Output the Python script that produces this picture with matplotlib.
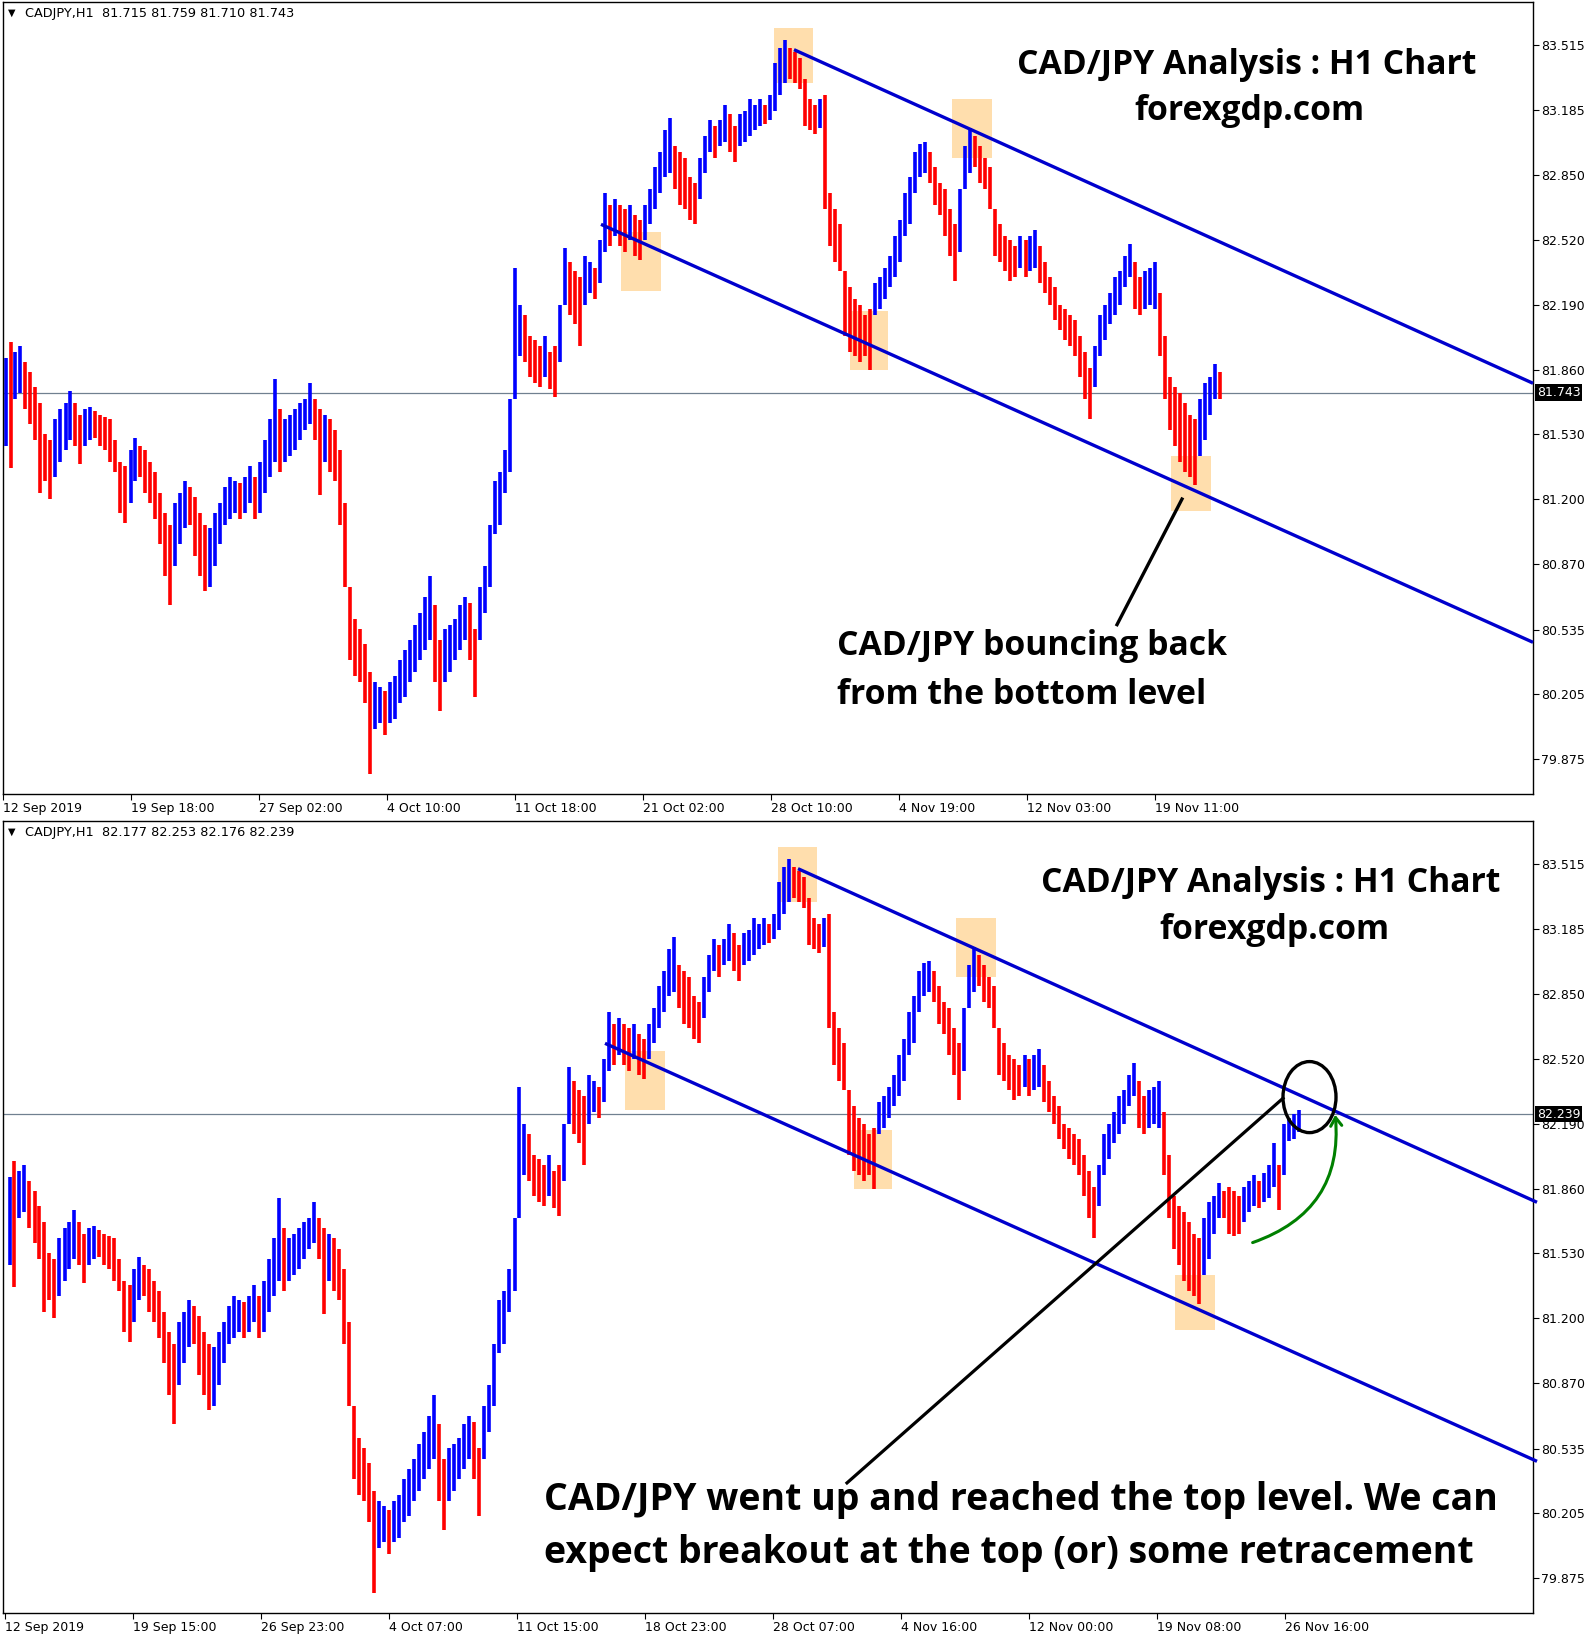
import numpy as np
import matplotlib.pyplot as plt
import matplotlib.transforms as mtransforms
from matplotlib.patches import Rectangle, Ellipse, FancyArrowPatch

# CADJPY H1, one record per 5 hourly bars (high / low)
bar_high = [
    81.92, 82.00, 81.95, 81.98, 81.90, 81.85, 81.77, 81.69, 81.53, 81.50,
    81.61, 81.66, 81.69, 81.75, 81.69, 81.63, 81.66, 81.67, 81.65, 81.63,
    81.62, 81.61, 81.50, 81.39, 81.37, 81.45, 81.51, 81.47, 81.45, 81.39,
    81.34, 81.23, 81.13, 81.07, 81.18, 81.23, 81.29, 81.26, 81.21, 81.13,
    81.07, 81.05, 81.13, 81.18, 81.26, 81.31, 81.29, 81.28, 81.31, 81.37,
    81.31, 81.39, 81.50, 81.61, 81.81, 81.66, 81.61, 81.63, 81.66, 81.69,
    81.71, 81.79, 81.71, 81.66, 81.63, 81.61, 81.55, 81.45, 81.18, 80.75,
    80.59, 80.54, 80.46, 80.32, 80.27, 80.24, 80.22, 80.27, 80.30, 80.38,
    80.43, 80.48, 80.56, 80.62, 80.70, 80.81, 80.66, 80.48, 80.54, 80.56,
    80.59, 80.66, 80.70, 80.67, 80.54, 80.75, 80.86, 81.07, 81.29, 81.34,
    81.45, 81.71, 82.38, 82.19, 82.14, 82.03, 82.01, 81.98, 82.03, 81.95,
    81.98, 82.19, 82.48, 82.41, 82.36, 82.33, 82.44, 82.41, 82.38, 82.52,
    82.76, 82.70, 82.73, 82.70, 82.68, 82.70, 82.65, 82.62, 82.70, 82.78,
    82.89, 82.97, 83.08, 83.14, 83.00, 82.97, 82.94, 82.84, 82.81, 82.94,
    83.05, 83.13, 83.10, 83.13, 83.21, 83.16, 83.10, 83.16, 83.18, 83.24,
    83.21, 83.24, 83.21, 83.26, 83.42, 83.50, 83.54, 83.50, 83.48, 83.45,
    83.34, 83.24, 83.21, 83.24, 83.26, 82.76, 82.68, 82.60, 82.36, 82.28,
    82.22, 82.19, 82.14, 82.17, 82.30, 82.33, 82.38, 82.44, 82.54, 82.62,
    82.76, 82.84, 82.97, 83.01, 83.02, 82.97, 82.89, 82.81, 82.78, 82.68,
    82.60, 82.78, 83.00, 83.09, 83.05, 83.00, 82.94, 82.89, 82.68, 82.60,
    82.54, 82.52, 82.49, 82.54, 82.52, 82.54, 82.57, 82.49, 82.41, 82.33,
    82.28, 82.19, 82.17, 82.14, 82.11, 82.03, 81.95, 81.87, 81.98, 82.14,
    82.19, 82.25, 82.33, 82.36, 82.44, 82.50, 82.41, 82.33, 82.36, 82.38,
    82.41, 82.25, 82.03, 81.82, 81.77, 81.74, 81.69, 81.63, 81.61, 81.71,
    81.79, 81.82, 81.89, 81.85, 81.87, 81.85, 81.82, 81.87, 81.90, 81.93,
    81.90, 81.94, 81.98, 82.09, 81.98, 82.19, 82.22, 82.24, 82.26,
]
bar_low = [
    81.47, 81.36, 81.71, 81.74, 81.66, 81.58, 81.50, 81.23, 81.29, 81.20,
    81.31, 81.39, 81.45, 81.50, 81.47, 81.38, 81.47, 81.50, 81.51, 81.47,
    81.45, 81.39, 81.34, 81.13, 81.08, 81.18, 81.29, 81.31, 81.23, 81.18,
    81.10, 80.97, 80.81, 80.66, 80.86, 80.97, 81.05, 81.07, 80.91, 80.81,
    80.73, 80.75, 80.86, 80.97, 81.07, 81.10, 81.13, 81.10, 81.13, 81.18,
    81.10, 81.13, 81.23, 81.31, 81.39, 81.34, 81.39, 81.42, 81.45, 81.50,
    81.55, 81.58, 81.50, 81.22, 81.39, 81.34, 81.29, 81.07, 80.75, 80.38,
    80.30, 80.27, 80.16, 79.80, 80.03, 80.06, 80.00, 80.06, 80.08, 80.16,
    80.19, 80.27, 80.32, 80.38, 80.43, 80.48, 80.27, 80.12, 80.27, 80.32,
    80.38, 80.43, 80.48, 80.38, 80.19, 80.48, 80.62, 80.75, 81.02, 81.07,
    81.23, 81.34, 81.71, 81.93, 81.90, 81.82, 81.79, 81.77, 81.82, 81.76,
    81.72, 81.90, 82.19, 82.14, 82.09, 81.98, 82.19, 82.25, 82.22, 82.30,
    82.46, 82.49, 82.54, 82.49, 82.46, 82.52, 82.44, 82.42, 82.52, 82.60,
    82.68, 82.76, 82.84, 82.86, 82.78, 82.70, 82.68, 82.62, 82.60, 82.73,
    82.86, 82.97, 82.94, 83.00, 83.02, 82.97, 82.92, 83.00, 83.02, 83.05,
    83.08, 83.10, 83.11, 83.13, 83.18, 83.26, 83.32, 83.34, 83.32, 83.29,
    83.10, 83.08, 83.06, 83.09, 82.68, 82.49, 82.41, 82.36, 82.03, 81.95,
    81.93, 81.90, 81.93, 81.86, 82.14, 82.17, 82.22, 82.28, 82.33, 82.41,
    82.54, 82.60, 82.76, 82.84, 82.86, 82.81, 82.70, 82.65, 82.54, 82.44,
    82.31, 82.46, 82.78, 82.86, 82.89, 82.81, 82.78, 82.68, 82.44, 82.41,
    82.36, 82.31, 82.33, 82.38, 82.33, 82.36, 82.38, 82.30, 82.25, 82.19,
    82.11, 82.06, 82.01, 81.98, 81.93, 81.82, 81.71, 81.61, 81.77, 81.93,
    82.01, 82.09, 82.14, 82.19, 82.28, 82.33, 82.17, 82.14, 82.17, 82.19,
    82.17, 81.93, 81.71, 81.55, 81.47, 81.39, 81.34, 81.31, 81.27, 81.42,
    81.50, 81.63, 81.71, 81.71, 81.63, 81.62, 81.63, 81.69, 81.74, 81.77,
    81.76, 81.79, 81.81, 81.87, 81.75, 81.93, 82.10, 82.11, 82.15,
]
n_top = 244  # top chart stops on 22 Nov

price_ticks = [83.515, 83.185, 82.850, 82.520, 82.190, 81.860,
               81.530, 81.200, 80.870, 80.535, 80.205, 79.875]
top_dates = ['12 Sep 2019', '19 Sep 18:00', '27 Sep 02:00', '4 Oct 10:00',
             '11 Oct 18:00', '21 Oct 02:00', '28 Oct 10:00', '4 Nov 19:00',
             '12 Nov 03:00', '19 Nov 11:00']
bot_dates = ['12 Sep 2019', '19 Sep 15:00', '26 Sep 23:00', '4 Oct 07:00',
             '11 Oct 15:00', '18 Oct 23:00', '28 Oct 07:00', '4 Nov 16:00',
             '12 Nov 00:00', '19 Nov 08:00', '26 Nov 16:00']

# channel lines (bar index, price)
upper_channel = [(791, 83.49), (1530, 81.79)]
lower_channel = [(598, 82.60), (1530, 80.47)]
# highlighted touches: (x0, x1, price low, price high)
zones = [(771, 810, 83.32, 83.60), (949, 989, 82.94, 83.24),
         (618, 658, 82.26, 82.56), (847, 885, 81.86, 82.16),
         (1168, 1208, 81.14, 81.42)]

top_ohlc = '81.715 81.759 81.710 81.743'
bot_ohlc = '82.177 82.253 82.176 82.239'
top_last = 81.743
bot_last = 82.239

BLUE = '#0000CD'
BOLD = dict(family='Open Sans', fontweight='bold', color='black')


def draw_panel(ax, n, shift, dates, ohlc, last):
    hi = np.array(bar_high[:n])
    lo = np.array(bar_low[:n])
    mid = (hi + lo) / 2
    up = np.r_[True, mid[1:] >= mid[:-1]]
    xs = 2.5 + 5 * np.arange(n) + shift
    ax.vlines(xs, lo, hi, colors=np.where(up, '#0000FF', '#FF0000'),
              lw=2.6, zorder=2)

    for x0, x1, p0, p1 in zones:
        ax.add_patch(Rectangle((x0 + shift, p0), x1 - x0, p1 - p0,
                               fc='#FFDEAD', ec='none', zorder=0.5))
    for line in (upper_channel, lower_channel):
        ax.plot([line[0][0] + shift, line[1][0] + shift],
                [line[0][1], line[1][1]], color=BLUE, lw=2.4, zorder=3,
                solid_capstyle='butt', clip_on=False)

    ax.axhline(last, color='#708090', lw=0.9, zorder=1)
    trans = mtransforms.blended_transform_factory(ax.transAxes, ax.transData)
    ax.text(1.0025, last, f'{last:.3f}', transform=trans, color='white',
            fontsize=9, va='center', ha='left', zorder=10, clip_on=False,
            bbox=dict(fc='black', ec='none', pad=1.2))

    ax.text(0.0058, 0.986, '\u25BC', transform=ax.transAxes, fontsize=7,
            va='center', ha='center')
    ax.text(0.0145, 0.986, f'CADJPY,H1  {ohlc}', transform=ax.transAxes,
            fontsize=9.3, va='center', ha='left')

    ax.set_xlim(0, 1530)
    ax.set_ylim(79.697, 83.733)
    ax.yaxis.tick_right()
    ax.set_yticks(price_ticks)
    ax.set_yticklabels([f'{p:.3f}' for p in price_ticks])
    ax.set_xticks([2 * (shift > 0) + 128 * i for i in range(len(dates))])
    ax.set_xticklabels(dates)
    for lab in ax.get_xticklabels():
        lab.set_ha('left')
    ax.tick_params(axis='both', direction='out', length=4, width=0.8,
                   labelsize=9, pad=2)
    for sp in ax.spines.values():
        sp.set_linewidth(1.0)


fig = plt.figure(figsize=(15.92, 16.44), dpi=100)
ax_top = fig.add_axes([3 / 1592, 1 - 794 / 1644, 1530 / 1592, 792 / 1644])
ax_bot = fig.add_axes([3 / 1592, 1 - 1613 / 1644, 1530 / 1592, 792 / 1644])

draw_panel(ax_top, n_top, 0, top_dates, top_ohlc, top_last)
draw_panel(ax_bot, len(bar_high), 4, bot_dates, bot_ohlc, bot_last)

# top annotations
ax_top.text(1244, 83.41, 'CAD/JPY Analysis : H1 Chart', ha='center',
            va='center', fontsize=24.3, **BOLD)
ax_top.text(1246, 83.175, 'forexgdp.com', ha='center', va='center',
            fontsize=24.3, **BOLD)
ax_top.plot([1179, 1114], [81.20, 80.56], color='black', lw=2.4, zorder=4)
ax_top.text(834, 80.45, 'CAD/JPY bouncing back', ha='left', va='center',
            fontsize=24.3, **BOLD)
ax_top.text(834, 80.20, 'from the bottom level', ha='left', va='center',
            fontsize=24.3, **BOLD)

# bottom annotations
ax_bot.text(1268, 83.415, 'CAD/JPY Analysis : H1 Chart', ha='center',
            va='center', fontsize=24.3, **BOLD)
ax_bot.text(1271, 83.18, 'forexgdp.com', ha='center', va='center',
            fontsize=24.3, **BOLD)
ax_bot.plot([1280, 844], [82.32, 80.36], color='black', lw=2.3, zorder=4)
ax_bot.add_patch(Ellipse((1306.5, 82.326), 53, 0.362, fill=False,
                         ec='black', lw=2.4, zorder=5))
ax_bot.add_patch(FancyArrowPatch((1247, 81.58), (1332, 82.25),
                                 connectionstyle='arc3,rad=0.4',
                                 arrowstyle='->,head_length=6,head_width=4',
                                 color='green', lw=2.2, zorder=5))
ax_bot.text(541, 80.275, 'CAD/JPY went up and reached the top level. We can',
            ha='left', va='center', fontsize=27, **BOLD)
ax_bot.text(541, 80.005, 'expect breakout at the top (or) some retracement',
            ha='left', va='center', fontsize=27, **BOLD)

fig.savefig('out.png', dpi=100)
